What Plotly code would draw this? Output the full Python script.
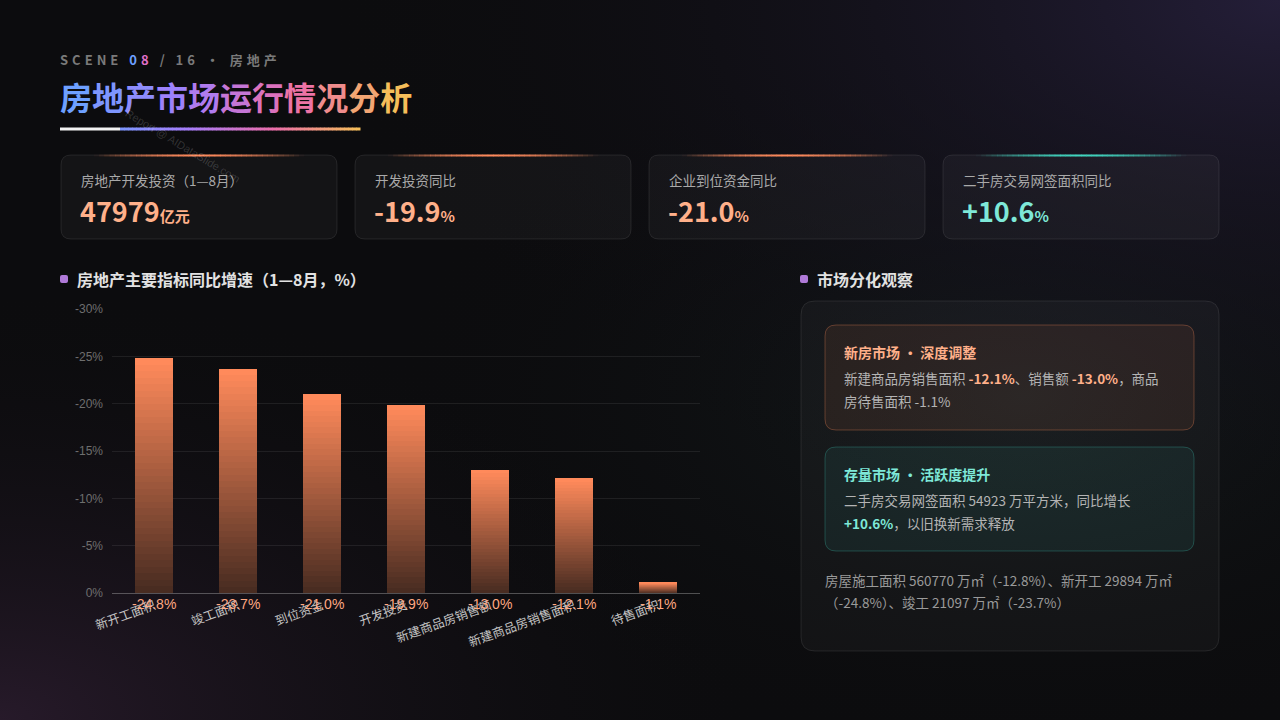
import base64
import plotly.graph_objects as go

# ---------------- data ----------------
categories = ["新开工面积", "竣工面积", "到位资金", "开发投资", "新建商品房销售额", "新建商品房销售面积", "待售面积"]
values = [-24.8, -23.7, -21.0, -19.9, -13.0, -12.1, -1.1]
y_ticks = [0, -5, -10, -15, -20, -25, -30]

kpi_labels = ["房地产开发投资（1—8月）", "开发投资同比", "企业到位资金同比", "二手房交易网签面积同比"]
kpi_values = ["47979", "-19.9", "-21.0", "+10.6"]
kpi_units = ["亿元", "%", "%", "%"]
kpi_tones = ["warm", "warm", "warm", "cool"]

title_text = "房地产市场运行情况分析"
scene_text = ("SCENE", "08", "/ 16 • 房地产")
chart_title = "房地产主要指标同比增速（1—8月，%）"
panel_title = "市场分化观察"

box1_title = "新房市场 • 深度调整"
box1_lines = [("新建商品房销售面积 ", "-12.1%", "、销售额 ", "-13.0%", "，商品"), ("房待售面积 -1.1%",)]
box2_title = "存量市场 • 活跃度提升"
box2_lines = [("二手房交易网签面积 54923 万平方米，同比增长",), ("", "+10.6%", "，以旧换新需求释放")]
footer_lines = ["房屋施工面积 560770 万㎡（-12.8%）、新开工 29894 万㎡", "（-24.8%）、竣工 21097 万㎡（-23.7%）"]
watermark = "Report @ AIDataSlide.com"

# ---------------- helpers ----------------
W, H = 1280, 720
BG = (12, 12, 14)
WARM = "#ffb08a"
COOL = "#7ee8d8"
CJK = "Noto Sans CJK SC"


def X(px):
    return px / W


def Y(py):
    return 1 - py / H


def rrect(x0, y0, x1, y1, r):
    rx, ry = r / W, r / H
    a0, a1 = X(x0), X(x1)
    b0, b1 = Y(y0), Y(y1)  # b0 top (larger), b1 bottom
    return (f"M{a0+rx},{b0} L{a1-rx},{b0} Q{a1},{b0} {a1},{b0-ry} "
            f"L{a1},{b1+ry} Q{a1},{b1} {a1-rx},{b1} L{a0+rx},{b1} "
            f"Q{a0},{b1} {a0},{b1+ry} L{a0},{b0-ry} Q{a0},{b0} {a0+rx},{b0} Z")


def mix(c1, c2, t):
    return tuple(round(c1[i] + (c2[i] - c1[i]) * t) for i in range(3))


def hexc(c):
    return "#%02x%02x%02x" % c


shapes = []
annotations = []


def text(x, y, s, size=13, color="#cccccc", anchor="left", family=CJK, **kw):
    annotations.append(dict(x=X(x - 2), y=Y(y), xref="paper", yref="paper", text=s, showarrow=False,
                            xanchor=anchor, yanchor="middle", align="left",
                            font=dict(size=size, color=color, family=family), **kw))


# ---------------- background (svg image) ----------------
svg = f'''<svg xmlns="http://www.w3.org/2000/svg" width="{W}" height="{H}" viewBox="0 0 {W} {H}">
<defs>
<radialGradient id="tr" cx="1" cy="0" r="0.75"><stop offset="0" stop-color="#241e38" stop-opacity="1"/><stop offset="1" stop-color="#0c0c0e" stop-opacity="0"/></radialGradient>
<radialGradient id="bl" cx="0" cy="1" r="0.6"><stop offset="0" stop-color="#271a2a" stop-opacity="1"/><stop offset="1" stop-color="#0c0c0e" stop-opacity="0"/></radialGradient>
<radialGradient id="mr" cx="0.8" cy="0.55" r="0.5"><stop offset="0" stop-color="#141a1c" stop-opacity="1"/><stop offset="1" stop-color="#0c0c0e" stop-opacity="0"/></radialGradient>
</defs>
<rect width="{W}" height="{H}" fill="#0c0c0e"/>
<rect width="{W}" height="{H}" fill="url(#mr)"/>
<rect width="{W}" height="{H}" fill="url(#tr)"/>
<rect width="{W}" height="{H}" fill="url(#bl)"/>
</svg>'''
bg_src = "data:image/svg+xml;base64," + base64.b64encode(svg.encode()).decode()

# ---------------- header ----------------
sc = ('<b><span style="letter-spacing:4px">' + scene_text[0] + ' </span>'
      '<span style="color:#6ea0ff;letter-spacing:4px">' + scene_text[1][0] + '</span>'
      '<span style="color:#e070c8;letter-spacing:4px">' + scene_text[1][1] + ' </span>'
      '<span style="letter-spacing:4px">' + scene_text[2] + '</span></b>')
text(60, 59, sc, size=13, color="#7a7a7a")

stops = [(0.0, (110, 160, 255)), (0.35, (165, 125, 250)), (0.68, (236, 110, 170)), (1.0, (245, 190, 90))]


def grad(t):
    for i in range(len(stops) - 1):
        t0, c0 = stops[i]
        t1, c1 = stops[i + 1]
        if t <= t1:
            return mix(c0, c1, (t - t0) / (t1 - t0))
    return stops[-1][1]


n = len(title_text)
title_html = "".join(f'<span style="color:{hexc(grad(i/(n-1)))}">{ch}</span>' for i, ch in enumerate(title_text))
text(60, 96, "<b>" + title_html + "</b>", size=32)

# underline
shapes.append(dict(type="line", xref="paper", yref="paper", x0=X(60), x1=X(120), y0=Y(129), y1=Y(129),
                   line=dict(color="#f2f2f2", width=3)))
seg = 60
for i in range(seg):
    xa = 120 + (360 - 120) * i / seg
    xb = 120 + (360 - 120) * (i + 1) / seg + 0.5
    c = grad(0.1 + 0.9 * i / (seg - 1))
    shapes.append(dict(type="line", xref="paper", yref="paper", x0=X(xa), x1=X(xb), y0=Y(129), y1=Y(129),
                       line=dict(color=hexc(c), width=3)))

# watermark
annotations.append(dict(x=X(183), y=Y(146), xref="paper", yref="paper", text=watermark, showarrow=False,
                        xanchor="center", yanchor="middle", textangle=31,
                        font=dict(size=11, color="rgba(255,255,255,0.16)", family="Liberation Sans")))

# ---------------- KPI cards ----------------
card_x = [61, 355, 649, 943]
card_w = 276
for i in range(4):
    x0 = card_x[i]
    shapes.append(dict(type="path", xref="paper", yref="paper", path=rrect(x0, 155, x0 + card_w, 239, 10),
                       fillcolor="rgba(255,255,255,0.035)", line=dict(color="rgba(255,255,255,0.09)", width=1),
                       layer="below"))
    glow = (255, 138, 91) if kpi_tones[i] == "warm" else (64, 214, 192)
    cx = x0 + card_w / 2
    gseg = 40
    for k in range(gseg):
        t = (k + 0.5) / gseg
        a = max(0.0, 1 - abs(2 * t - 1) ** 1.6)
        xa = cx - 105 + 210 * k / gseg
        xb = cx - 105 + 210 * (k + 1) / gseg + 0.4
        shapes.append(dict(type="line", xref="paper", yref="paper", x0=X(xa), x1=X(xb), y0=Y(155.5), y1=Y(155.5),
                           line=dict(color=f"rgba({glow[0]},{glow[1]},{glow[2]},{a:.3f})", width=2)))
    col = WARM if kpi_tones[i] == "warm" else COOL
    text(x0 + 20, 180, kpi_labels[i], size=13.5, color="#a9a9a9")
    text(x0 + 19, 210, f"<b>{kpi_values[i]}<span style='font-size:15px'>{kpi_units[i]}</span></b>",
         size=27, color=col)

# ---------------- section headers ----------------
for sx, s in [(60, chart_title), (800, panel_title)]:
    shapes.append(dict(type="path", xref="paper", yref="paper", path=rrect(sx, 275, sx + 8, 283, 2),
                       fillcolor="#b07ad8", line=dict(width=0)))
    text(sx + 17, 279, f"<b>{s}</b>", size=16, color="#e2e2e2")

# ---------------- right panel ----------------
shapes.append(dict(type="path", xref="paper", yref="paper", path=rrect(801, 301, 1219, 651, 14),
                   fillcolor="rgba(255,255,255,0.03)", line=dict(color="rgba(255,255,255,0.09)", width=1),
                   layer="below"))
shapes.append(dict(type="path", xref="paper", yref="paper", path=rrect(825, 325, 1194, 430, 11),
                   fillcolor="rgba(255,138,91,0.08)", line=dict(color="rgba(255,138,91,0.30)", width=1),
                   layer="below"))
shapes.append(dict(type="path", xref="paper", yref="paper", path=rrect(825, 447, 1194, 551, 11),
                   fillcolor="rgba(64,214,192,0.07)", line=dict(color="rgba(64,214,192,0.26)", width=1),
                   layer="below"))


def rich(parts, hl):
    out = ""
    for j, p in enumerate(parts):
        if j % 2 == 1:
            out += f'<b><span style="color:{hl}">{p}</span></b>'
        else:
            out += p
    return out


text(844, 352, f"<b>{box1_title}</b>", size=14, color=WARM)
for j, ln in enumerate(box1_lines):
    text(844, 378 + 23 * j, rich(ln, WARM), size=13.5, color="#b4b4b4")
text(844, 474, f"<b>{box2_title}</b>", size=14, color=COOL)
for j, ln in enumerate(box2_lines):
    text(844, 500 + 23 * j, rich(ln, COOL), size=13.5, color="#b4b4b4")
for j, ln in enumerate(footer_lines):
    text(825, 580 + 22 * j, ln, size=13.5, color="#9a9a9a")

# ---------------- bar chart ----------------
fig = go.Figure()
NSEG = 36
top = (255, 138, 91)
bottom = mix(BG, top, 0.25)
for k in range(NSEG):
    c = mix(bottom, top, k / (NSEG - 1))
    fig.add_trace(go.Bar(x=categories, y=[v / NSEG for v in values], marker=dict(color=hexc(c), line=dict(width=0)),
                         hoverinfo="skip", showlegend=False))

# value labels, anchored to each category at the zero line
for cat, v in zip(categories, values):
    annotations.append(dict(x=cat, y=0, xref="x", yref="y", text=f"{v:.1f}%", showarrow=False,
                            xanchor="center", yanchor="middle", yshift=-11,
                            font=dict(size=14, color="#ffa882", family="Liberation Sans")))

fig.update_layout(
    width=W, height=H,
    margin=dict(l=0, r=0, t=0, b=0, autoexpand=False),
    paper_bgcolor="#0c0c0e", plot_bgcolor="rgba(0,0,0,0)",
    barmode="stack", bargap=0.55,
    font=dict(family=CJK),
    xaxis=dict(domain=[X(112), X(700)], showgrid=False, tickangle=-20, automargin=False,
               tickfont=dict(size=12.5, color="#c2c2c2", family=CJK), ticks="",
               showline=True, linecolor="rgba(255,255,255,0.28)", linewidth=1, zeroline=False, fixedrange=True),
    yaxis=dict(domain=[Y(593), Y(309)], range=[0, -30], tickvals=y_ticks, automargin=False,
               ticktext=[f"{t}%" for t in y_ticks], tickfont=dict(size=12, color="#6e6e6e", family="Liberation Sans"),
               gridcolor="rgba(255,255,255,0.08)", gridwidth=1, zeroline=False, showline=False,
               ticks="", ticklabelstandoff=8, fixedrange=True),
    shapes=shapes,
    annotations=annotations,
    images=[dict(source=bg_src, xref="paper", yref="paper", x=0, y=1, sizex=1, sizey=1,
                 xanchor="left", yanchor="top", sizing="stretch", layer="below")],
    showlegend=False,
)

fig.write_html("out.html", config={"displayModeBar": False},
               post_script="document.body.style.margin='0';document.body.style.background='#0c0c0e';"
                           "document.body.style.overflow='hidden';")
